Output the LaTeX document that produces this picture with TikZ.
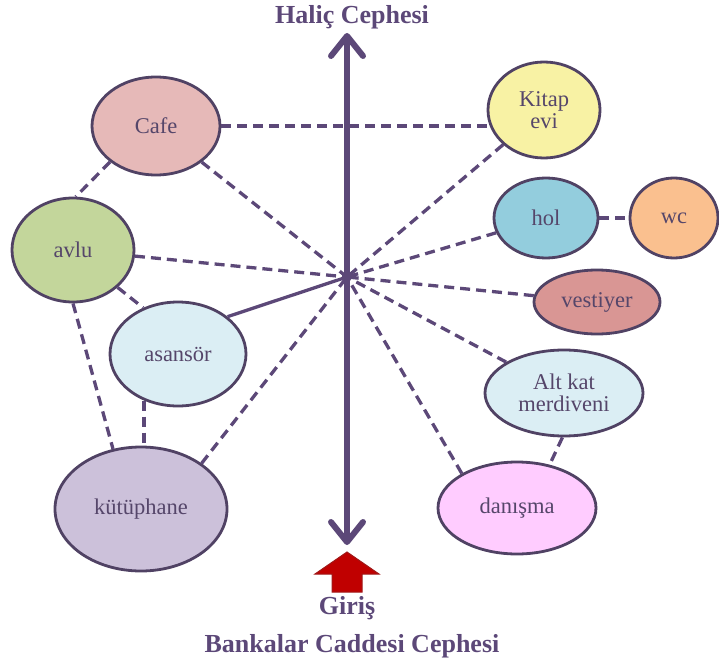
\documentclass[tikz,border=0pt]{standalone}
\usepackage{fontspec}
\setmainfont{Liberation Serif}
\usetikzlibrary{arrows.meta,shapes.geometric}
\definecolor{lc}{HTML}{5C4878}
\definecolor{bc}{HTML}{504264}
\definecolor{tc}{HTML}{55466A}
\definecolor{cafefill}{HTML}{E6B9B8}
\definecolor{avlufill}{HTML}{C3D69B}
\definecolor{asanfill}{HTML}{DBEEF4}
\definecolor{kutfill}{HTML}{CCC1DA}
\definecolor{kitfill}{HTML}{F8F2A4}
\definecolor{holfill}{HTML}{93CDDD}
\definecolor{wcfill}{HTML}{FAC08F}
\definecolor{vesfill}{HTML}{D99694}
\definecolor{danfill}{HTML}{FFCCFF}
\definecolor{redfill}{HTML}{C00000}
\definecolor{redline}{HTML}{A01818}
\begin{document}
\begin{tikzpicture}[x=1pt,y=-1pt,
  room/.style={ellipse, draw=bc, line width=2.8pt, inner sep=0pt, text=tc,
    font=\fontsize{22.5}{24}\selectfont, align=center},
  title/.style={text=lc, font=\fontsize{26}{30}\selectfont\bfseries},
  dlink/.style={draw=lc, line width=3.3pt, dash pattern=on 10pt off 6pt},
  slink/.style={draw=lc, line width=3.3pt},
  axis/.style={draw=lc, line width=6pt,
    {Straight Barb[length=20pt,width=32pt,round]}-{Straight Barb[length=20pt,width=32pt,round]}}
]
\useasboundingbox (0,0) rectangle (719,663);

% rooms
\node[room, fill=cafefill, minimum width=128pt, minimum height=98pt] (cafe) at (156,126) {Cafe};
\node[room, fill=kitfill, minimum width=112pt, minimum height=96pt] (kitap) at (544,110) {Kitap\\[-2pt]evi};
\node[room, fill=avlufill, minimum width=122pt, minimum height=104pt] (avlu) at (73,250) {avlu};
\node[room, fill=asanfill, minimum width=136pt, minimum height=104pt] (asansor) at (178,354) {asansör};
\node[room, fill=kutfill, minimum width=172pt, minimum height=124pt] (kutup) at (141,509) {kütüphane};
\node[room, fill=holfill, minimum width=104pt, minimum height=80pt] (hol) at (546,218) {hol};
\node[room, fill=wcfill, minimum width=88pt, minimum height=80pt] (wc) at (674,218) {wc};
\node[room, fill=vesfill, minimum width=126pt, minimum height=64pt] (vest) at (597,302) {vestiyer};
\node[room, fill=asanfill, minimum width=158pt, minimum height=86pt] (alt) at (564,393) {Alt kat\\[-2pt]merdiveni};
\node[room, fill=danfill, minimum width=158pt, minimum height=92pt] (danisma) at (517,508) {danışma};

% centre and axis
\coordinate (ctr) at (347,277);
\coordinate (top) at (347,33);
\coordinate (bot) at (347,545);

% connectors
\draw[dlink] (cafe.east) -- (cafe.east -| kitap.west);
\draw[dlink] (cafe.218) -- (avlu.87);
\draw[dlink] (cafe) -- (ctr);
\draw[dlink] (kitap) -- (ctr);
\draw[dlink] (avlu) -- (ctr);
\draw[dlink] (avlu.-40) -- (asansor.127);
\draw[dlink] (avlu.-90) -- (kutup.115);
\draw[dlink] (asansor.-126) -- (asansor.-126 |- kutup.north);
\draw[slink] (asansor.37) -- (ctr);
\draw[dlink] (kutup.37) -- (ctr);
\draw[dlink] (hol) -- (ctr);
\draw[dlink] (hol) -- (wc);
\draw[dlink] (vest) -- (ctr);
\draw[dlink] (alt) -- (ctr);
\draw[dlink] (danisma.148) -- (ctr);
\draw[dlink] (alt.-92) -- (danisma.53);

\draw[axis] (top) -- (bot);

% entrance arrow
\filldraw[fill=redfill, draw=redline, line width=1pt]
  (347,552) -- (379,574) -- (362,574) -- (362,592) -- (332,592) -- (332,574) -- (315,574) -- cycle;

% titles
\node[title] (halic) at (352,17) {Haliç Cephesi};
\node[title] (giris) at (347,608) {Giriş};
\node[title] (banka) at (352,646) {Bankalar Caddesi Cephesi};
\end{tikzpicture}
\end{document}
